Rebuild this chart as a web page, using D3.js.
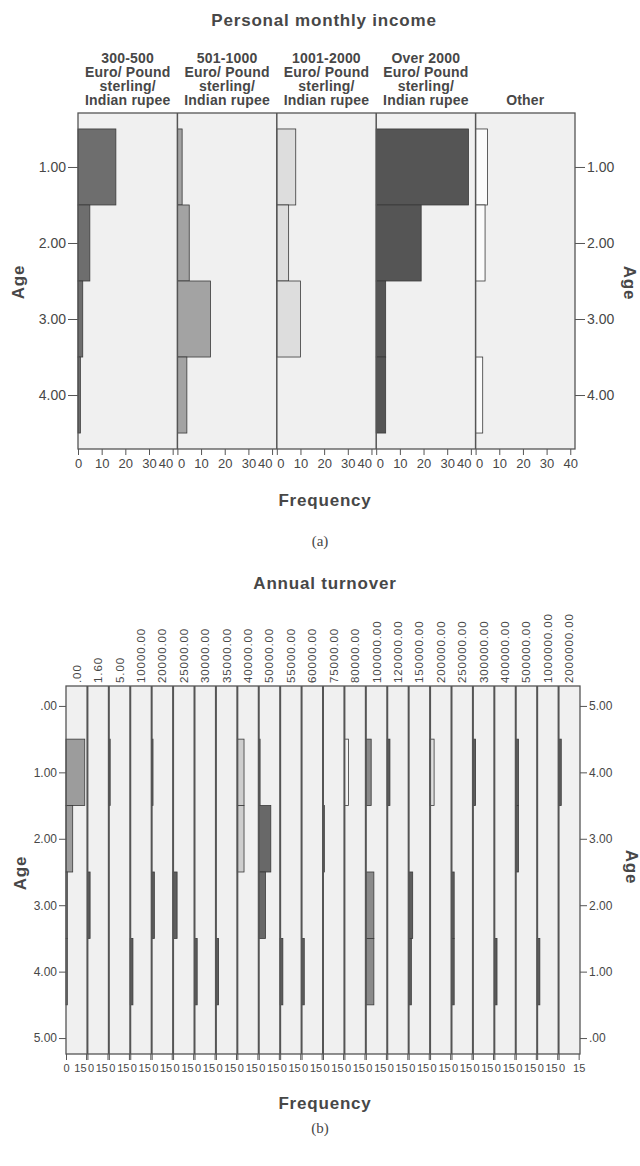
<!DOCTYPE html>
<html>
<head>
<meta charset="utf-8">
<script src="https://cdn.jsdelivr.net/npm/d3@7"></script>
<style>
  body { margin: 0; background: #fff; }
  text { font-family: "Liberation Sans", Arial, sans-serif; fill: #474747; }
</style>
</head>
<body>
<div id="chart"></div>
<script>
// (a) Personal monthly income, counts per age group (1..4) for each income column
var incomeLabels = [
    ["300-500", "Euro/ Pound", "sterling/", "Indian rupee"],
    ["501-1000", "Euro/ Pound", "sterling/", "Indian rupee"],
    ["1001-2000", "Euro/ Pound", "sterling/", "Indian rupee"],
    ["Over 2000", "Euro/ Pound", "sterling/", "Indian rupee"],
    ["Other"]
];
var ageGroupsA = [1, 2, 3, 4];
var incomeCounts = [
    [16, 5, 2, 1],
    [2, 5, 14, 4],
    [8, 5, 10, 0],
    [39, 19, 4, 4],
    [5, 4, 0, 3]
];
var freqTicksA = [0, 10, 20, 30, 40];
var ageTicksA = [1, 2, 3, 4];

// (b) Annual turnover, counts per age group (1..4) for each turnover column
var turnoverLabels = [".00", "1.60", "5.00", "10000.00", "20000.00", "25000.00", "30000.00",
    "35000.00", "40000.00", "50000.00", "55000.00", "60000.00", "75000.00", "80000.00",
    "100000.00", "120000.00", "150000.00", "200000.00", "250000.00", "300000.00",
    "400000.00", "500000.00", "1000000.00", "2000000.00"];
var ageGroupsB = [1, 2, 3, 4];
var turnoverCounts = [
    [14, 5, 1, 1], [0, 0, 2, 0], [1, 0, 0, 0], [0, 0, 0, 2], [1, 0, 2, 0], [0, 0, 3, 0],
    [0, 0, 0, 2], [0, 0, 0, 2], [5, 5, 0, 0], [1, 9, 5, 0], [0, 0, 0, 2], [0, 0, 0, 2],
    [0, 1, 0, 0], [3, 0, 0, 0], [4, 0, 6, 6], [2, 0, 0, 0], [0, 0, 3, 2], [3, 0, 0, 0],
    [0, 0, 2, 2], [2, 0, 0, 0], [0, 0, 0, 2], [2, 2, 0, 0], [0, 0, 0, 2], [2, 0, 0, 0]
];
var freqTicksB = [0, 15];
var ageTicksB = [0, 1, 2, 3, 4, 5];

// bar fills per column
var incomeColors = ["#6e6e6e", "#a3a3a3", "#dddddd", "#555555", "#fbfbfb"];
var turnoverColors = ["#9c9c9c", "#5e5e5e", "#5e5e5e", "#5e5e5e", "#5e5e5e", "#5e5e5e",
    "#5e5e5e", "#5e5e5e", "#cdcdcd", "#686868", "#5e5e5e", "#5e5e5e", "#5e5e5e", "#f3f3f3",
    "#8a8a8a", "#5e5e5e", "#5e5e5e", "#dedede", "#5e5e5e", "#5e5e5e", "#5e5e5e", "#5e5e5e",
    "#5e5e5e", "#5e5e5e"];

function fmtAge(d) {
    return d3.format(".2f")(d).replace(/^0\./, ".");
}

function styleAxis(g, size) {
    g.select(".domain").remove();
    g.selectAll(".tick line").attr("stroke", "#555");
    g.selectAll(".tick text").style("font-size", size + "px");
}

function drawPanels(svg, c) {
    var y = d3.scaleLinear().domain(c.yDomain).range([c.top, c.bottom]);
    var panel = d3.scaleBand().domain(d3.range(c.labels.length)).range([c.left, c.right]);
    var x = d3.scaleLinear().domain([0, c.xMax]).range([0, panel.bandwidth()]);
    var n = c.labels.length;
    var lastTick = d3.max(c.xTicks);

    svg.append("rect")
        .attr("x", c.left).attr("y", c.top)
        .attr("width", c.right - c.left).attr("height", c.bottom - c.top)
        .attr("fill", "#f0f0f0");

    c.counts.forEach(function(counts, i) {
        var g = svg.append("g").attr("transform", "translate(" + panel(i) + ",0)");
        var bars = counts.map(function(v, j) { return {age: c.ages[j], n: v}; })
                         .filter(function(d) { return d.n > 0; });
        g.selectAll("rect").data(bars).enter().append("rect")
            .attr("x", 0)
            .attr("y", function(d) { return y(d.age - 0.5); })
            .attr("width", function(d) { return x(d.n); })
            .attr("height", function(d) { return y(d.age + 0.5) - y(d.age - 0.5); })
            .attr("fill", c.colors[i])
            .attr("stroke", "#3a3a3a")
            .attr("stroke-width", 0.8);

        var ax = g.append("g")
            .attr("transform", "translate(0," + c.bottom + ")")
            .call(d3.axisBottom(x).tickValues(c.xTicks).tickSize(6).tickPadding(4))
            .call(styleAxis, c.xFont);
        // neighbouring panels share an edge: push end labels apart
        ax.selectAll(".tick text").attr("text-anchor", function(d) {
            if (d === lastTick && i < n - 1) return "end";
            if (d === 0 && i > 0) return "start";
            return "middle";
        });
    });

    // column separators
    svg.selectAll(null).data(d3.range(1, n)).enter().append("line")
        .attr("x1", function(i) { return panel(i); })
        .attr("x2", function(i) { return panel(i); })
        .attr("y1", c.top).attr("y2", c.bottom)
        .attr("stroke", "#555").attr("stroke-width", c.sepWidth);

    svg.append("rect")
        .attr("x", c.left).attr("y", c.top)
        .attr("width", c.right - c.left).attr("height", c.bottom - c.top)
        .attr("fill", "none").attr("stroke", "#555").attr("stroke-width", 1.3);

    svg.append("g")
        .attr("transform", "translate(" + c.left + ",0)")
        .call(d3.axisLeft(y).tickValues(c.yTicks).tickFormat(fmtAge).tickSize(c.yTickSize).tickPadding(2))
        .call(styleAxis, c.yFont);

    var yMax = d3.max(c.yTicks);
    svg.append("g")
        .attr("transform", "translate(" + c.right + ",0)")
        .call(d3.axisRight(y).tickValues(c.yTicks)
              .tickFormat(c.rightReversed ? function(d) { return fmtAge(yMax - d); } : fmtAge)
              .tickSize(c.yTickSize).tickPadding(2))
        .call(styleAxis, c.yFont);

    return {y: y, panel: panel};
}

function boldText(svg, str, x, y, size, rotate) {
    svg.append("text")
        .attr("transform", "translate(" + x + "," + y + ")" + (rotate ? " rotate(" + rotate + ")" : ""))
        .attr("text-anchor", "middle")
        .attr("dy", "0.35em")
        .style("font-size", size + "px")
        .style("font-weight", "bold")
        .style("letter-spacing", "0.8px")
        .text(str);
}

function main() {
    var svg = d3.select("#chart").append("svg")
        .attr("width", 640)
        .attr("height", 1166);

    // ---------- (a)
    var a = drawPanels(svg, {
        left: 78, right: 575, top: 113, bottom: 449,
        yDomain: [0.29, 4.71], xMax: 42,
        labels: incomeLabels, counts: incomeCounts, ages: ageGroupsA, colors: incomeColors,
        xTicks: freqTicksA, yTicks: ageTicksA, xFont: 13, yFont: 14,
        yTickSize: 10, sepWidth: 1.5, rightReversed: false
    });

    boldText(svg, "Personal monthly income", 324, 20, 17);

    incomeLabels.forEach(function(lines, i) {
        var t = svg.append("text")
            .attr("text-anchor", "middle")
            .style("font-size", "14px")
            .style("font-weight", "bold")
            .style("letter-spacing", "0.2px");
        lines.forEach(function(line, k) {
            t.append("tspan")
                .attr("x", a.panel(i) + a.panel.bandwidth() / 2)
                .attr("y", 104.5 - (lines.length - 1 - k) * 13.8)
                .text(line);
        });
    });

    boldText(svg, "Age", 18, 282, 17, -90);
    boldText(svg, "Age", 630, 283, 17, 90);
    boldText(svg, "Frequency", 325, 500, 17);

    svg.append("text")
        .attr("x", 320).attr("y", 541).attr("dy", "0.35em")
        .attr("text-anchor", "middle")
        .style("font-family", "'Liberation Serif', 'Times New Roman', serif")
        .style("font-size", "15px")
        .text("(a)");

    // ---------- (b)
    var b = drawPanels(svg, {
        left: 66, right: 580, top: 686, bottom: 1054,
        yDomain: [-0.3, 5.24], xMax: 16,
        labels: turnoverLabels, counts: turnoverCounts, ages: ageGroupsB, colors: turnoverColors,
        xTicks: freqTicksB, yTicks: ageTicksB, xFont: 11, yFont: 12,
        yTickSize: 7, sepWidth: 2, rightReversed: true
    });

    boldText(svg, "Annual turnover", 325, 583, 17);

    svg.selectAll(null).data(turnoverLabels).enter().append("text")
        .attr("transform", function(d, i) {
            return "translate(" + (b.panel(i) + b.panel.bandwidth() / 2) + ",683) rotate(-90)";
        })
        .attr("dy", "0.35em")
        .attr("text-anchor", "start")
        .style("font-size", "11.5px")
        .style("letter-spacing", "0.9px")
        .text(function(d) { return d; });

    boldText(svg, "Age", 20, 873, 17, -90);
    boldText(svg, "Age", 632, 867, 17, 90);
    boldText(svg, "Frequency", 325, 1103, 17);

    svg.append("text")
        .attr("x", 320).attr("y", 1128).attr("dy", "0.35em")
        .attr("text-anchor", "middle")
        .style("font-family", "'Liberation Serif', 'Times New Roman', serif")
        .style("font-size", "15px")
        .text("(b)");
}

main();
</script>
</body>
</html>
